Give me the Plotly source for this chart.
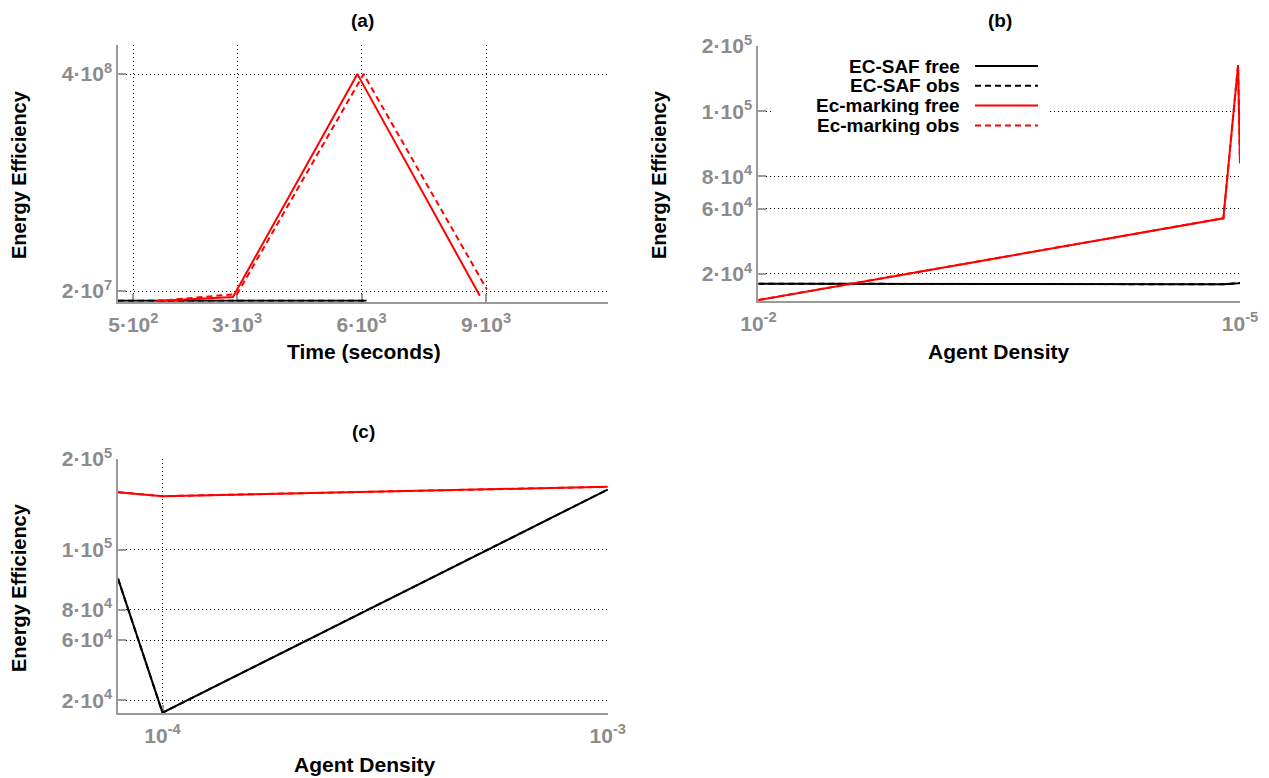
import plotly.graph_objects as go

W, H = 1269, 778
OFF = 8  # page body margin in the browser

# ---------------- data ----------------
# (a) Energy efficiency vs time
a_time_ecm_free = [1060, 2900, 5900, 8850]
a_ecm_free = [2.5e6, 9.5e6, 4.0e8, 1.18e7]
a_time_ecm_obs = [1060, 3000, 6050, 9020]
a_ecm_obs = [2.5e6, 1.47e7, 4.0e8, 2.3e7]
a_time_saf = [130, 3000, 6120]
a_saf_free = [3.0e6, 3.0e6, 3.0e6]
a_saf_obs = [3.0e6, 3.0e6, 3.0e6]
a_xticks = [500, 3000, 6000, 9000]
a_xticktext = ["5·10<sup>2</sup>", "3·10<sup>3</sup>", "6·10<sup>3</sup>", "9·10<sup>3</sup>"]
a_yticks = [2e7, 4e8]
a_yticktext = ["2·10<sup>7</sup>", "4·10<sup>8</sup>"]

# (b) Energy efficiency vs agent density
b_density = [1e-2, 3.55e-4, 5e-5, 1e-5]
b_saf_free = [1.40e4, 1.37e4, 1.43e4, 1.45e4]
b_saf_obs = [1.40e4, 1.37e4, 1.43e4, 1.45e4]
b_ecm_free = [4.0e3, 5.42e4, 1.483e5, 8.8e4]
b_ecm_obs = [4.0e3, 5.42e4, 1.483e5, 8.8e4]
b_xticks = [1e-2, 1e-5]
b_xticktext = ["10<sup>-2</sup>", "10<sup>-5</sup>"]
b_yticks = [2e4, 6e4, 8e4, 1.2e5, 1.6e5]
b_yticktext = ["2·10<sup>4</sup>", "6·10<sup>4</sup>", "8·10<sup>4</sup>", "1·10<sup>5</sup>", "2·10<sup>5</sup>"]

# (c) Energy efficiency vs agent density
c_density = [1e-5, 1e-4, 1e-3]
c_saf_free = [1.007e5, 1.18e4, 1.598e5]
c_saf_obs = [1.007e5, 1.18e4, 1.598e5]
c_ecm_free = [1.58e5, 1.554e5, 1.616e5]
c_ecm_obs = [1.58e5, 1.554e5, 1.616e5]
c_xticks = [1e-4, 1e-3]
c_xticktext = ["10<sup>-4</sup>", "10<sup>-3</sup>"]
c_yticks = [2e4, 6e4, 8e4, 1.2e5, 1.8e5]
c_yticktext = ["2·10<sup>4</sup>", "6·10<sup>4</sup>", "8·10<sup>4</sup>", "1·10<sup>5</sup>", "2·10<sup>5</sup>"]

series_names = ["EC-SAF free", "EC-SAF obs", "Ec-marking free", "Ec-marking obs"]
series_colors = ["#000000", "#000000", "#ff0000", "#ff0000"]
series_dash = ["solid", "6px,4px", "solid", "6px,4px"]

FONT = "Liberation Sans"
FW, FH = W - OFF, H - OFF

def px_x(p):
    return (p - OFF) / FW

def px_y(p):
    return 1 - (p - OFF) / FH

fig = go.Figure()

def add(x, y, idx, xa, ya):
    fig.add_trace(go.Scatter(
        x=x, y=y, mode="lines", name=series_names[idx], showlegend=False,
        line=dict(color=series_colors[idx], width=2, dash=series_dash[idx]),
        xaxis=xa, yaxis=ya))

# (a)
add(a_time_saf, a_saf_obs, 1, "x", "y")
add(a_time_saf, a_saf_free, 0, "x", "y")
add(a_time_ecm_obs, a_ecm_obs, 3, "x", "y")
add(a_time_ecm_free, a_ecm_free, 2, "x", "y")
# (b)
add(b_density, b_saf_obs, 1, "x2", "y2")
add(b_density, b_saf_free, 0, "x2", "y2")
add(b_density, b_ecm_obs, 3, "x2", "y2")
add(b_density, b_ecm_free, 2, "x2", "y2")
# (c)
add(c_density, c_saf_obs, 1, "x3", "y3")
add(c_density, c_saf_free, 0, "x3", "y3")
add(c_density, c_ecm_obs, 3, "x3", "y3")
add(c_density, c_ecm_free, 2, "x3", "y3")

common = dict(
    showline=True, linecolor="#9a9a9a", linewidth=1.5,
    ticks="inside", ticklen=8, tickcolor="#9a9a9a", tickwidth=1.5,
    showgrid=True, gridcolor="#000000", gridwidth=1, griddash="1px,3px",
    zeroline=False, tickmode="array", layer="below traces", automargin=False,
    tickfont=dict(family=FONT, size=21, color="#8c8c8c", weight="bold"),
)
xcommon = dict(common, ticklabelstandoff=3)

fig.update_layout(
    template="none",
    width=FW, height=FH,
    margin=dict(l=0, r=0, t=0, b=0, pad=0),
    paper_bgcolor="white", plot_bgcolor="white",
    showlegend=False,
    xaxis=dict(xcommon, domain=[px_x(118), px_x(608)], range=[130, 11940],
               tickvals=a_xticks, ticktext=a_xticktext, anchor="y"),
    yaxis=dict(common, domain=[px_y(301.7), px_y(45)], range=[1.3e6, 4.51e8],
               tickvals=a_yticks, ticktext=a_yticktext, anchor="x"),
    xaxis2=dict(xcommon, domain=[px_x(758), px_x(1240)], range=[1.001e-2, 0.99e-5],
                tickvals=b_xticks, ticktext=b_xticktext, anchor="y2"),
    yaxis2=dict(common, domain=[px_y(301), px_y(46)], range=[3.4e3, 1.6005e5],
                tickvals=b_yticks, ticktext=b_yticktext, anchor="x2"),
    xaxis3=dict(xcommon, domain=[px_x(118), px_x(608)], range=[1e-5, 1.0005e-3],
                tickvals=c_xticks, ticktext=c_xticktext, anchor="y3"),
    yaxis3=dict(common, domain=[px_y(713), px_y(459)], range=[1.158e4, 1.8005e5],
                tickvals=c_yticks, ticktext=c_yticktext, anchor="x3"),
)

ann = []
title_font = dict(family=FONT, size=19, color="black", weight="bold")
axis_font_h = dict(family=FONT, size=21, color="black", weight="bold")
axis_font_v = dict(family=FONT, size=20, color="black", weight="bold")

for txt, x, y in [("(a)", 362, 21), ("(b)", 1000, 21), ("(c)", 363, 432)]:
    ann.append(dict(text=txt, x=px_x(x), y=px_y(y), xref="paper", yref="paper",
                    showarrow=False, font=title_font, xanchor="center", yanchor="middle"))
for txt, x, y in [("Time (seconds)", 364, 352), ("Agent Density", 999, 352), ("Agent Density", 365, 764)]:
    ann.append(dict(text=txt, x=px_x(x), y=px_y(y), xref="paper", yref="paper",
                    showarrow=False, font=axis_font_h, xanchor="center", yanchor="middle"))
for x, y in [(19, 175), (659, 175), (19, 588)]:
    ann.append(dict(text="Energy Efficiency", x=px_x(x), y=px_y(y), xref="paper", yref="paper",
                    showarrow=False, font=axis_font_v, textangle=-90, xanchor="center", yanchor="middle"))

# legend of panel (b): text right-aligned, line sample on the right (gnuplot style)
shapes = [dict(type="rect", xref="paper", yref="paper",
               x0=px_x(772), x1=px_x(1050), y0=px_y(140), y1=px_y(55),
               fillcolor="white", line=dict(width=0), layer="above")]
legend_font = dict(family=FONT, size=19, color="black", weight="bold")
for i, (name, color, dash) in enumerate(zip(series_names, series_colors, series_dash)):
    yc = 66 + i * 19.8
    ann.append(dict(text=name, x=px_x(962), y=px_y(yc), xref="paper", yref="paper",
                    showarrow=False, font=legend_font, xanchor="right", yanchor="middle",
                    height=19))
    shapes.append(dict(type="line", xref="paper", yref="paper",
                       x0=px_x(975), x1=px_x(1038), y0=px_y(yc), y1=px_y(yc),
                       line=dict(color=color, width=2, dash=dash), layer="above"))

fig.update_layout(annotations=ann, shapes=shapes)

fig.write_html("out.html")
